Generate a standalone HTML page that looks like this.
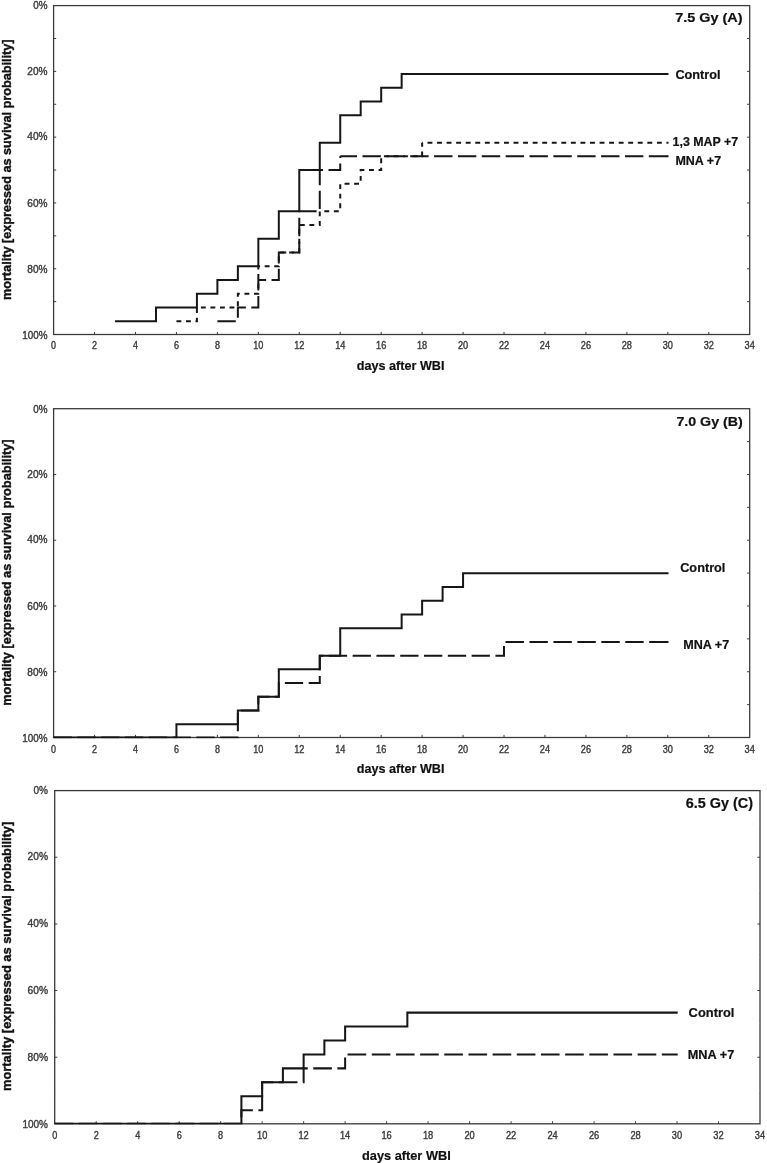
<!DOCTYPE html>
<html lang="en"><head><meta charset="utf-8"><title>Survival after WBI</title>
<style>
html,body{margin:0;padding:0;background:#fff}
body{width:767px;height:1164px;overflow:hidden}
svg{display:block;filter:blur(.4px)}
text{font-family:"Liberation Sans",Arial,Helvetica,sans-serif}
.tk{font-size:10.5px;fill:#3c3c3c;stroke:#3c3c3c;stroke-width:.4px}
.b{font-weight:bold;fill:#111;stroke:#111;stroke-width:.2px}
.bs{stroke:#111;stroke-width:.4px}
</style></head><body>
<svg width="767" height="1164" viewBox="0 0 767 1164">
<rect width="767" height="1164" fill="#fff"/>
<g id="chartA">
<rect x="53.6" y="5.6" width="696.1" height="328.9" fill="none" stroke="#3c3c3c" stroke-width="1.3"/>
<path d="M53.6 38.49h2.6M749.7 38.49h-2.6M53.6 71.38h2.6M749.7 71.38h-2.6M53.6 104.27h2.6M749.7 104.27h-2.6M53.6 137.16h2.6M749.7 137.16h-2.6M53.6 170.05h2.6M749.7 170.05h-2.6M53.6 202.94h2.6M749.7 202.94h-2.6M53.6 235.83h2.6M749.7 235.83h-2.6M53.6 268.72h2.6M749.7 268.72h-2.6M53.6 301.61h2.6M749.7 301.61h-2.6M94.55 334.5v-2.6M135.49 334.5v-2.6M176.44 334.5v-2.6M217.39 334.5v-2.6M258.34 334.5v-2.6M299.28 334.5v-2.6M340.23 334.5v-2.6M381.18 334.5v-2.6M422.12 334.5v-2.6M463.07 334.5v-2.6M504.02 334.5v-2.6M544.96 334.5v-2.6M585.91 334.5v-2.6M626.86 334.5v-2.6M667.81 334.5v-2.6M708.75 334.5v-2.6" stroke="#3c3c3c" stroke-width="1" fill="none"/>
<g class="tk" style="font-size:10.5px">
<text x="47.5" y="9.1" text-anchor="end" textLength="14.3" lengthAdjust="spacingAndGlyphs">0%</text>
<text x="47.5" y="74.68" text-anchor="end" textLength="20.2" lengthAdjust="spacingAndGlyphs">20%</text>
<text x="47.5" y="140.26" text-anchor="end" textLength="20.2" lengthAdjust="spacingAndGlyphs">40%</text>
<text x="47.5" y="207.34" text-anchor="end" textLength="20.2" lengthAdjust="spacingAndGlyphs">60%</text>
<text x="47.5" y="272.97" text-anchor="end" textLength="20.2" lengthAdjust="spacingAndGlyphs">80%</text>
<text x="47.5" y="338.75" text-anchor="end" textLength="25.3" lengthAdjust="spacingAndGlyphs">100%</text>
<text x="53.6" y="349.1" text-anchor="middle" textLength="5" lengthAdjust="spacingAndGlyphs">0</text>
<text x="94.55" y="349.1" text-anchor="middle" textLength="5" lengthAdjust="spacingAndGlyphs">2</text>
<text x="135.49" y="349.1" text-anchor="middle" textLength="5" lengthAdjust="spacingAndGlyphs">4</text>
<text x="176.44" y="349.1" text-anchor="middle" textLength="5" lengthAdjust="spacingAndGlyphs">6</text>
<text x="217.39" y="349.1" text-anchor="middle" textLength="5" lengthAdjust="spacingAndGlyphs">8</text>
<text x="258.34" y="349.1" text-anchor="middle" textLength="10.2" lengthAdjust="spacingAndGlyphs">10</text>
<text x="299.28" y="349.1" text-anchor="middle" textLength="10.2" lengthAdjust="spacingAndGlyphs">12</text>
<text x="340.23" y="349.1" text-anchor="middle" textLength="10.2" lengthAdjust="spacingAndGlyphs">14</text>
<text x="381.18" y="349.1" text-anchor="middle" textLength="10.2" lengthAdjust="spacingAndGlyphs">16</text>
<text x="422.12" y="349.1" text-anchor="middle" textLength="10.2" lengthAdjust="spacingAndGlyphs">18</text>
<text x="463.07" y="349.1" text-anchor="middle" textLength="10.2" lengthAdjust="spacingAndGlyphs">20</text>
<text x="504.02" y="349.1" text-anchor="middle" textLength="10.2" lengthAdjust="spacingAndGlyphs">22</text>
<text x="544.96" y="349.1" text-anchor="middle" textLength="10.2" lengthAdjust="spacingAndGlyphs">24</text>
<text x="585.91" y="349.1" text-anchor="middle" textLength="10.2" lengthAdjust="spacingAndGlyphs">26</text>
<text x="626.86" y="349.1" text-anchor="middle" textLength="10.2" lengthAdjust="spacingAndGlyphs">28</text>
<text x="667.81" y="349.1" text-anchor="middle" textLength="10.2" lengthAdjust="spacingAndGlyphs">30</text>
<text x="708.75" y="349.1" text-anchor="middle" textLength="10.2" lengthAdjust="spacingAndGlyphs">32</text>
<text x="749.7" y="349.1" text-anchor="middle" textLength="10.2" lengthAdjust="spacingAndGlyphs">34</text>
</g>
<text class="b" x="400.65" y="369.7" text-anchor="middle" font-size="13.2" textLength="87.6" lengthAdjust="spacingAndGlyphs">days after WBI</text>
<text class="b bs" transform="translate(11.05 169.75) rotate(-90)" text-anchor="middle" font-size="13.2" textLength="260.7" lengthAdjust="spacingAndGlyphs">mortality [expressed as suvival probability]</text>
<text class="b" x="742.5" y="22.1" text-anchor="end" font-size="13.6" textLength="67.3" lengthAdjust="spacingAndGlyphs">7.5 Gy (A)</text>
<clipPath id="clipA"><rect x="52.6" y="5.6" width="698.1" height="329.4"/></clipPath>
<g clip-path="url(#clipA)">
<path d="M115.02 321.17H155.97V307.43H196.91V293.7H217.39V279.97H237.86V266.23H258.34V238.77H278.81V211.3H299.28V170.1H319.76V142.63H340.23V115.17H360.7V101.43H381.18V87.7H401.65V73.97H668.51" fill="none" stroke="#161616" stroke-width="2"/>
<path d="M176.44 321.17H196.91V307.43H237.86V293.7H258.34V266.23H278.81V252.5H299.28V225.03H319.76V211.3H340.23V183.83H360.7V170.1H381.18V156.37H422.12V142.63" fill="none" stroke="#161616" stroke-width="2" stroke-dasharray="4.895 4.651"/>
<path d="M422.12 142.63H668.51" fill="none" stroke="#161616" stroke-width="2" stroke-dasharray="4.9 4.66" stroke-dashoffset="4.19"/>
<path d="M217.39 321.17H237.86V307.43H258.34V279.97H278.81V252.5H299.28V211.3H319.76V170.1H340.23V156.37" fill="none" stroke="#161616" stroke-width="2" stroke-dasharray="18.382 5.455"/>
<path d="M340.23 156.37H668.51" fill="none" stroke="#161616" stroke-width="2" stroke-dasharray="18.4 5.46" stroke-dashoffset="1.60"/>
<path d="M666.81 156.37H668.51" fill="none" stroke="#161616" stroke-width="2"/>
</g>
<text class="b" x="675.4" y="79" font-size="12.9" textLength="45.2" lengthAdjust="spacingAndGlyphs">Control</text>
<text class="b" x="672.6" y="145.7" font-size="12.9" textLength="65.6" lengthAdjust="spacingAndGlyphs">1,3 MAP +7</text>
<text class="b" x="675.4" y="164.6" font-size="12.9" textLength="45.7" lengthAdjust="spacingAndGlyphs">MNA +7</text>
</g>
<g id="chartB">
<rect x="53.6" y="408.7" width="696.1" height="328.8" fill="none" stroke="#3c3c3c" stroke-width="1.3"/>
<path d="M749.7 441.58h-2.6M53.6 474.46h2.6M749.7 474.46h-2.6M749.7 507.34h-2.6M53.6 540.22h2.6M749.7 540.22h-2.6M749.7 573.1h-2.6M53.6 605.98h2.6M749.7 605.98h-2.6M749.7 638.86h-2.6M53.6 671.74h2.6M749.7 671.74h-2.6M749.7 704.62h-2.6M94.55 737.5v-2.6M135.49 737.5v-2.6M176.44 737.5v-2.6M217.39 737.5v-2.6M258.34 737.5v-2.6M299.28 737.5v-2.6M340.23 737.5v-2.6M381.18 737.5v-2.6M422.12 737.5v-2.6M463.07 737.5v-2.6M504.02 737.5v-2.6M544.96 737.5v-2.6M585.91 737.5v-2.6M626.86 737.5v-2.6M667.81 737.5v-2.6M708.75 737.5v-2.6" stroke="#3c3c3c" stroke-width="1" fill="none"/>
<g class="tk" style="font-size:10.5px">
<text x="47.5" y="412.9" text-anchor="end" textLength="14.3" lengthAdjust="spacingAndGlyphs">0%</text>
<text x="47.5" y="477.61" text-anchor="end" textLength="20.2" lengthAdjust="spacingAndGlyphs">20%</text>
<text x="47.5" y="543.42" text-anchor="end" textLength="20.2" lengthAdjust="spacingAndGlyphs">40%</text>
<text x="47.5" y="610.38" text-anchor="end" textLength="20.2" lengthAdjust="spacingAndGlyphs">60%</text>
<text x="47.5" y="676.04" text-anchor="end" textLength="20.2" lengthAdjust="spacingAndGlyphs">80%</text>
<text x="47.5" y="741.75" text-anchor="end" textLength="25.3" lengthAdjust="spacingAndGlyphs">100%</text>
<text x="53.6" y="752.6" text-anchor="middle" textLength="5" lengthAdjust="spacingAndGlyphs">0</text>
<text x="94.55" y="752.6" text-anchor="middle" textLength="5" lengthAdjust="spacingAndGlyphs">2</text>
<text x="135.49" y="752.6" text-anchor="middle" textLength="5" lengthAdjust="spacingAndGlyphs">4</text>
<text x="176.44" y="752.6" text-anchor="middle" textLength="5" lengthAdjust="spacingAndGlyphs">6</text>
<text x="217.39" y="752.6" text-anchor="middle" textLength="5" lengthAdjust="spacingAndGlyphs">8</text>
<text x="258.34" y="752.6" text-anchor="middle" textLength="10.2" lengthAdjust="spacingAndGlyphs">10</text>
<text x="299.28" y="752.6" text-anchor="middle" textLength="10.2" lengthAdjust="spacingAndGlyphs">12</text>
<text x="340.23" y="752.6" text-anchor="middle" textLength="10.2" lengthAdjust="spacingAndGlyphs">14</text>
<text x="381.18" y="752.6" text-anchor="middle" textLength="10.2" lengthAdjust="spacingAndGlyphs">16</text>
<text x="422.12" y="752.6" text-anchor="middle" textLength="10.2" lengthAdjust="spacingAndGlyphs">18</text>
<text x="463.07" y="752.6" text-anchor="middle" textLength="10.2" lengthAdjust="spacingAndGlyphs">20</text>
<text x="504.02" y="752.6" text-anchor="middle" textLength="10.2" lengthAdjust="spacingAndGlyphs">22</text>
<text x="544.96" y="752.6" text-anchor="middle" textLength="10.2" lengthAdjust="spacingAndGlyphs">24</text>
<text x="585.91" y="752.6" text-anchor="middle" textLength="10.2" lengthAdjust="spacingAndGlyphs">26</text>
<text x="626.86" y="752.6" text-anchor="middle" textLength="10.2" lengthAdjust="spacingAndGlyphs">28</text>
<text x="667.81" y="752.6" text-anchor="middle" textLength="10.2" lengthAdjust="spacingAndGlyphs">30</text>
<text x="708.75" y="752.6" text-anchor="middle" textLength="10.2" lengthAdjust="spacingAndGlyphs">32</text>
<text x="749.7" y="752.6" text-anchor="middle" textLength="10.2" lengthAdjust="spacingAndGlyphs">34</text>
</g>
<text class="b" x="400.65" y="773" text-anchor="middle" font-size="13.2" textLength="87.6" lengthAdjust="spacingAndGlyphs">days after WBI</text>
<text class="b bs" transform="translate(11.05 572.6) rotate(-90)" text-anchor="middle" font-size="13.2" textLength="266.4" lengthAdjust="spacingAndGlyphs">mortality [expressed as survival probability]</text>
<text class="b" x="742.8" y="425.65" text-anchor="end" font-size="13.6" textLength="66.4" lengthAdjust="spacingAndGlyphs">7.0 Gy (B)</text>
<clipPath id="clipB"><rect x="52.6" y="408.7" width="698.1" height="329.5"/></clipPath>
<g clip-path="url(#clipB)">
<path d="M53.6 737.4H176.44V724.23H237.86V710.52H258.34V696.8H278.81V669.37H319.76V655.65H340.23V628.22H401.65V614.5H422.12V600.78H442.6V587.07H463.07V573.35H668.51" fill="none" stroke="#161616" stroke-width="2"/>
<path d="M53.6 737.4H237.86V710.52H258.34V696.8H278.81V683.08H319.76V655.65H504.02V641.93" fill="none" stroke="#161616" stroke-width="2" stroke-dasharray="18.284 5.515"/>
<path d="M504.02 641.93H668.51" fill="none" stroke="#161616" stroke-width="2" stroke-dasharray="18.4 5.55" stroke-dashoffset="22.45"/>
<path d="M666.81 641.93H668.51" fill="none" stroke="#161616" stroke-width="2"/>
</g>
<text class="b" x="680.2" y="572.3" font-size="12.9" textLength="45.2" lengthAdjust="spacingAndGlyphs">Control</text>
<text class="b" x="683.2" y="648.8" font-size="12.9" textLength="46" lengthAdjust="spacingAndGlyphs">MNA +7</text>
</g>
<g id="chartC">
<rect x="54.7" y="790.6" width="705.3" height="333.2" fill="none" stroke="#3c3c3c" stroke-width="1.32"/>
<path d="M54.7 857.24h2.63M760 857.24h-2.63M54.7 923.88h2.63M760 923.88h-2.63M54.7 990.52h2.63M760 990.52h-2.63M54.7 1057.16h2.63M760 1057.16h-2.63M96.19 1123.8v-2.63M137.68 1123.8v-2.63M179.16 1123.8v-2.63M220.65 1123.8v-2.63M262.14 1123.8v-2.63M303.63 1123.8v-2.63M345.12 1123.8v-2.63M386.61 1123.8v-2.63M428.09 1123.8v-2.63M469.58 1123.8v-2.63M511.07 1123.8v-2.63M552.56 1123.8v-2.63M594.05 1123.8v-2.63M635.54 1123.8v-2.63M677.02 1123.8v-2.63M718.51 1123.8v-2.63" stroke="#3c3c3c" stroke-width="1.01" fill="none"/>
<path d="M54.7 823.92h0.91M760 823.92h-0.91M54.7 890.56h0.91M760 890.56h-0.91M54.7 957.2h0.91M760 957.2h-0.91M54.7 1023.84h0.91M760 1023.84h-0.91M54.7 1090.48h0.91M760 1090.48h-0.91" stroke="#999" stroke-width="1.01" fill="none"/>
<g class="tk" style="font-size:10.64px">
<text x="48.01" y="794.15" text-anchor="end" textLength="14.49" lengthAdjust="spacingAndGlyphs">0%</text>
<text x="48.01" y="860.29" text-anchor="end" textLength="20.47" lengthAdjust="spacingAndGlyphs">20%</text>
<text x="48.01" y="926.93" text-anchor="end" textLength="20.47" lengthAdjust="spacingAndGlyphs">40%</text>
<text x="48.01" y="994.07" text-anchor="end" textLength="20.47" lengthAdjust="spacingAndGlyphs">60%</text>
<text x="48.01" y="1060.61" text-anchor="end" textLength="20.47" lengthAdjust="spacingAndGlyphs">80%</text>
<text x="48.01" y="1127.85" text-anchor="end" textLength="25.63" lengthAdjust="spacingAndGlyphs">100%</text>
<text x="54.7" y="1138.59" text-anchor="middle" textLength="5.07" lengthAdjust="spacingAndGlyphs">0</text>
<text x="96.19" y="1138.59" text-anchor="middle" textLength="5.07" lengthAdjust="spacingAndGlyphs">2</text>
<text x="137.68" y="1138.59" text-anchor="middle" textLength="5.07" lengthAdjust="spacingAndGlyphs">4</text>
<text x="179.16" y="1138.59" text-anchor="middle" textLength="5.07" lengthAdjust="spacingAndGlyphs">6</text>
<text x="220.65" y="1138.59" text-anchor="middle" textLength="5.07" lengthAdjust="spacingAndGlyphs">8</text>
<text x="262.14" y="1138.59" text-anchor="middle" textLength="10.33" lengthAdjust="spacingAndGlyphs">10</text>
<text x="303.63" y="1138.59" text-anchor="middle" textLength="10.33" lengthAdjust="spacingAndGlyphs">12</text>
<text x="345.12" y="1138.59" text-anchor="middle" textLength="10.33" lengthAdjust="spacingAndGlyphs">14</text>
<text x="386.61" y="1138.59" text-anchor="middle" textLength="10.33" lengthAdjust="spacingAndGlyphs">16</text>
<text x="428.09" y="1138.59" text-anchor="middle" textLength="10.33" lengthAdjust="spacingAndGlyphs">18</text>
<text x="469.58" y="1138.59" text-anchor="middle" textLength="10.33" lengthAdjust="spacingAndGlyphs">20</text>
<text x="511.07" y="1138.59" text-anchor="middle" textLength="10.33" lengthAdjust="spacingAndGlyphs">22</text>
<text x="552.56" y="1138.59" text-anchor="middle" textLength="10.33" lengthAdjust="spacingAndGlyphs">24</text>
<text x="594.05" y="1138.59" text-anchor="middle" textLength="10.33" lengthAdjust="spacingAndGlyphs">26</text>
<text x="635.54" y="1138.59" text-anchor="middle" textLength="10.33" lengthAdjust="spacingAndGlyphs">28</text>
<text x="677.02" y="1138.59" text-anchor="middle" textLength="10.33" lengthAdjust="spacingAndGlyphs">30</text>
<text x="718.51" y="1138.59" text-anchor="middle" textLength="10.33" lengthAdjust="spacingAndGlyphs">32</text>
<text x="760" y="1138.59" text-anchor="middle" textLength="10.33" lengthAdjust="spacingAndGlyphs">34</text>
</g>
<text class="b" x="406.35" y="1160.07" text-anchor="middle" font-size="13.37" textLength="88.76" lengthAdjust="spacingAndGlyphs">days after WBI</text>
<text class="b bs" transform="translate(11.3 956.35) rotate(-90)" text-anchor="middle" font-size="13.3" textLength="269.3" lengthAdjust="spacingAndGlyphs">mortality [expressed as survival probability]</text>
<text class="b" x="753.01" y="807.77" text-anchor="end" font-size="13.78" textLength="67.28" lengthAdjust="spacingAndGlyphs">6.5 Gy (C)</text>
<clipPath id="clipC"><rect x="53.7" y="790.6" width="707.3" height="333.65"/></clipPath>
<g clip-path="url(#clipC)">
<path d="M54.7 1123.8H241.4V1096.23H262.14V1082.3H282.89V1068.37H303.63V1054.43H324.37V1040.5H345.12V1026.57H407.35V1012.63H677.72" fill="none" stroke="#161616" stroke-width="2.03"/>
<path d="M54.7 1123.8H241.4V1110.17H262.14V1082.3H303.63V1068.37H345.12V1054.43" fill="none" stroke="#161616" stroke-width="2.03" stroke-dasharray="18.625 5.527"/>
<path d="M345.12 1054.43H677.72" fill="none" stroke="#161616" stroke-width="2.03" stroke-dasharray="18.64 5.53" stroke-dashoffset="21.69"/>
</g>
<text class="b" x="688.6" y="1016.8" font-size="13.07" textLength="45.8" lengthAdjust="spacingAndGlyphs">Control</text>
<text class="b" x="687.7" y="1058.8" font-size="13.07" textLength="46.6" lengthAdjust="spacingAndGlyphs">MNA +7</text>
</g>
</svg>
</body></html>
